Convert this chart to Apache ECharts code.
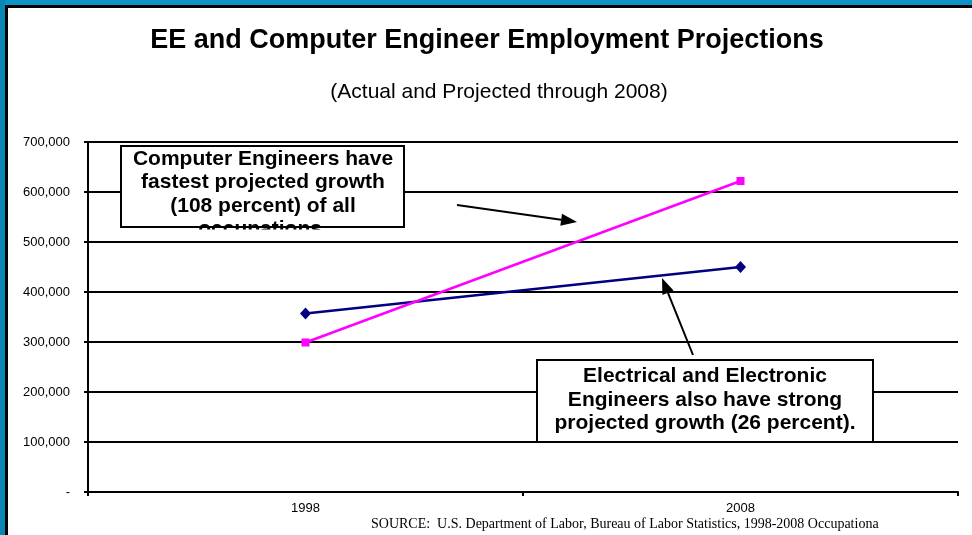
<!DOCTYPE html>
<html>
<head>
<meta charset="utf-8">
<script src="https://cdn.jsdelivr.net/npm/echarts@6/dist/echarts.min.js"></script>
<style>
html,body{margin:0;padding:0;background:#fff;}
#chart{width:972px;height:535px;}
</style>
</head>
<body>
<div id="chart"></div>
<script>
const categories = ['1998', '2008'];
const computerEngineers = [299000, 622000];
const electricalEngineers = [357000, 450000];
const yTicks = [0, 100000, 200000, 300000, 400000, 500000, 600000, 700000];

const titleText = 'EE and Computer Engineer Employment Projections';
const subtitleText = '(Actual and Projected through 2008)';
const note1 = 'Computer Engineers have\nfastest projected growth\n(108 percent) of all\noccupations.';
const note2 = 'Electrical and Electronic\nEngineers also have strong\nprojected growth (26 percent).';
const sourceText = 'SOURCE:  U.S. Department of Labor, Bureau of Labor Statistics, 1998-2008 Occupationa';

function arrow(x1, y1, x2, y2, len, half) {
  const dx = x2 - x1, dy = y2 - y1;
  const d = Math.sqrt(dx * dx + dy * dy);
  const ux = dx / d, uy = dy / d;
  const bx = x2 - ux * len, by = y2 - uy * len;
  const px = -uy * half, py = ux * half;
  return [
    { type: 'line', shape: { x1: x1, y1: y1, x2: bx, y2: by }, style: { stroke: '#000', lineWidth: 2 }, z: 100 },
    { type: 'polygon', shape: { points: [[x2, y2], [bx + px, by + py], [bx - px, by - py]] }, style: { fill: '#000' }, z: 100 }
  ];
}

const chart = echarts.init(document.getElementById('chart'));
const option = {
  animation: false,
  backgroundColor: '#fff',
  grid: { left: 88, right: 14, top: 142, bottom: 43 },
  xAxis: {
    type: 'category',
    data: categories,
    boundaryGap: true,
    axisLine: { lineStyle: { color: '#000', width: 2 } },
    axisTick: { show: true, length: 4, lineStyle: { color: '#000', width: 2 } },
    axisLabel: { color: '#000', fontFamily: 'Liberation Sans, Arial', fontSize: 13, margin: 10 },
    splitLine: { show: false }
  },
  yAxis: {
    type: 'value',
    min: 0,
    max: 700000,
    interval: 100000,
    axisLine: { show: true, lineStyle: { color: '#000', width: 2 } },
    axisTick: { show: true, length: 4, lineStyle: { color: '#000', width: 2 } },
    axisLabel: {
      color: '#000', fontFamily: 'Liberation Sans, Arial', fontSize: 13, margin: 18,
      formatter: function (v) { return v === 0 ? '-' : v.toLocaleString('en-US'); }
    },
    splitLine: { show: true, lineStyle: { color: '#000', width: 2 } }
  },
  series: [
    {
      name: 'Electrical and Electronic Engineers',
      type: 'line',
      data: electricalEngineers,
      symbol: 'diamond',
      symbolSize: [11, 12],
      itemStyle: { color: '#000080' },
      lineStyle: { color: '#000080', width: 2.5 },
      z: 5
    },
    {
      name: 'Computer Engineers',
      type: 'line',
      data: computerEngineers,
      symbol: 'rect',
      symbolSize: 8,
      itemStyle: { color: '#ff00ff' },
      lineStyle: { color: '#ff00ff', width: 2.5 },
      z: 6
    }
  ],
  graphic: [
    // frame
    { type: 'rect', shape: { x: 0, y: 0, width: 972, height: 5 }, style: { fill: '#0b93c6' }, z: 200 },
    { type: 'rect', shape: { x: 0, y: 0, width: 5, height: 535 }, style: { fill: '#0a86b6' }, z: 200 },
    { type: 'rect', shape: { x: 5, y: 5, width: 967, height: 3 }, style: { fill: '#000' }, z: 200 },
    { type: 'rect', shape: { x: 5, y: 5, width: 3, height: 530 }, style: { fill: '#000' }, z: 200 },
    // titles
    { type: 'text', x: 487, y: 41, style: { text: titleText, fill: '#000', font: 'bold 27px "Liberation Sans", Arial', textAlign: 'center', textVerticalAlign: 'middle' }, z: 100 },
    { type: 'text', x: 499, y: 92, style: { text: subtitleText, fill: '#000', font: '21px "Liberation Sans", Arial', textAlign: 'center', textVerticalAlign: 'middle' }, z: 100 },
    // note 1
    { type: 'rect', shape: { x: 121, y: 146, width: 283, height: 81 }, style: { fill: '#fff', stroke: '#000', lineWidth: 2 }, z: 90 },
    { type: 'text', x: 263, y: 147, style: { text: note1, fill: '#000', font: 'bold 21px "Liberation Sans", Arial', textAlign: 'center', textVerticalAlign: 'top', lineHeight: 23.5 }, z: 95 },
    { type: 'rect', shape: { x: 115, y: 229.5, width: 295, height: 10 }, style: { fill: '#fff' }, z: 96 },
    // note 2
    { type: 'rect', shape: { x: 537, y: 360, width: 336, height: 82 }, style: { fill: '#fff', stroke: '#000', lineWidth: 2 }, z: 90 },
    { type: 'text', x: 705, y: 400, style: { text: note2, fill: '#000', font: 'bold 21px "Liberation Sans", Arial', textAlign: 'center', textVerticalAlign: 'middle', lineHeight: 23.5 }, z: 95 },
    // source
    { type: 'text', x: 371, y: 524, style: { text: sourceText, fill: '#000', font: '14px "Liberation Serif", "Times New Roman"', textAlign: 'left', textVerticalAlign: 'middle' }, z: 100 }
  ].concat(arrow(457, 205, 577, 222, 16, 6)).concat(arrow(693, 355, 662, 278, 16, 6))
};
chart.setOption(option);
</script>
</body>
</html>
